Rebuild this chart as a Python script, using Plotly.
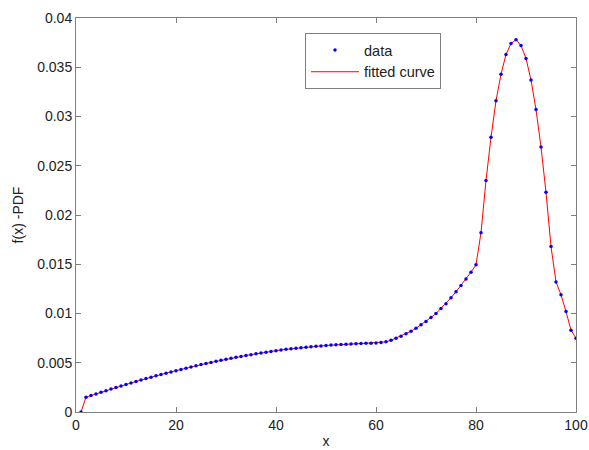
import plotly.graph_objects as go

x_vals = list(range(1, 101))
pdf_vals = [
    0.0, 1.50, 1.67, 1.84, 2.01, 2.17, 2.33, 2.49, 2.65, 2.80,
    2.95, 3.10, 3.25, 3.39, 3.53, 3.67, 3.81, 3.94, 4.07, 4.20,
    4.32, 4.45, 4.57, 4.69, 4.81, 4.92, 5.03, 5.14, 5.25, 5.35,
    5.45, 5.55, 5.64, 5.73, 5.82, 5.91, 5.99, 6.07, 6.15, 6.23,
    6.30, 6.36, 6.42, 6.48, 6.53, 6.58, 6.63, 6.67, 6.71, 6.75,
    6.79, 6.82, 6.85, 6.88, 6.91, 6.93, 6.95, 6.97, 6.99, 7.01,
    7.05, 7.12, 7.28, 7.50, 7.70, 7.95, 8.20, 8.50, 8.85, 9.20,
    9.60, 10.00, 10.50, 11.00, 11.60, 12.20, 12.85, 13.50, 14.20, 14.95,
    18.2, 23.5, 27.9, 31.6, 34.3, 36.3, 37.4, 37.8, 37.2, 35.9,
    33.7, 30.7, 26.9, 22.3, 16.8, 13.2, 11.9, 10.2, 8.3, 7.5,
]
pdf_vals = [v / 1000.0 for v in pdf_vals]

y_tick_vals = [0, 0.005, 0.01, 0.015, 0.02, 0.025, 0.03, 0.035, 0.04]
y_tick_text = ["0", "0.005", "0.01", "0.015", "0.02", "0.025", "0.03", "0.035", "0.04"]
x_tick_vals = [0, 20, 40, 60, 80, 100]

fig = go.Figure()
fig.add_trace(go.Scatter(
    x=x_vals, y=pdf_vals, mode="lines", name="fitted curve",
    line=dict(color="#FF0000", width=1), legendrank=2,
))
fig.add_trace(go.Scatter(
    x=x_vals, y=pdf_vals, mode="markers", name="data",
    marker=dict(color="#0000FF", size=3.5), legendrank=1,
))

axis_common = dict(
    showline=True, mirror="ticks", linecolor="#7f7f7f", linewidth=1,
    ticks="inside", ticklen=5, tickcolor="#7f7f7f", tickwidth=1,
    showgrid=False, zeroline=False, automargin=False,
    tickfont=dict(family="Liberation Sans, Arial", size=14, color="#222"),
)

fig.update_layout(
    width=589, height=450,
    margin=dict(l=76, r=13, t=18, b=38),
    paper_bgcolor="white", plot_bgcolor="white",
    font=dict(family="Liberation Sans, Arial", size=14, color="#222"),
    xaxis=dict(range=[0, 100], tickvals=x_tick_vals,
               title=dict(text="x", standoff=4, font=dict(size=14)), **axis_common),
    yaxis=dict(range=[0, 0.04], tickvals=y_tick_vals, ticktext=y_tick_text,
               title=dict(text="f(x) -PDF", standoff=10, font=dict(size=14)), **axis_common),
    legend=dict(x=0.458, y=0.962, xanchor="left", yanchor="top",
                bordercolor="#7f7f7f", borderwidth=1, bgcolor="white",
                font=dict(size=14.5), itemwidth=48, tracegroupgap=0),
    showlegend=True,
)

fig.write_html(
    "out.html",
    config={"displayModeBar": False},
    post_script="document.body.style.margin='0';document.body.style.overflow='hidden';",
)
